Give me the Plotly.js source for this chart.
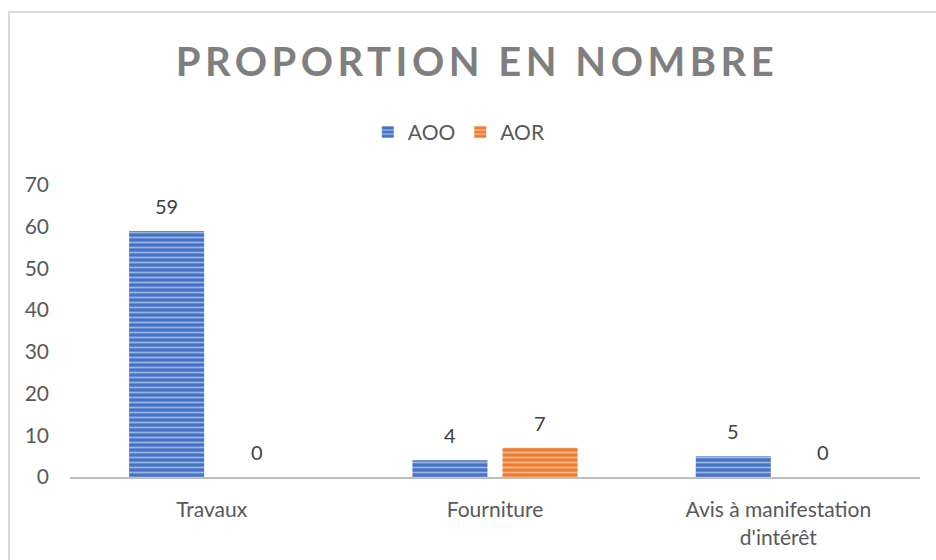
<!DOCTYPE html>
<html>
<head>
<meta charset="utf-8">
<script src="https://cdn.plot.ly/plotly-3.0.1.min.js"></script>
<style>
  html, body { margin: 0; padding: 0; background: #fff; }
  #frame { position: absolute; left: 8px; top: 11px; width: 1000px; height: 600px;
           border-left: 2px solid #D9D9D9; border-top: 2px solid #D9D9D9; pointer-events: none; }
  #chart { width: 936px; height: 560px; }
  .gtitle { letter-spacing: 4.5px; }
</style>
</head>
<body>
<div id="chart"></div>
<div id="frame"></div>
<script>
const categories = ["Travaux", "Fourniture", "Avis à manifestation<br>d'intérêt"];
const seriesNames = ["AOO", "AOR"];
const aooValues = [59, 4, 5];
const aorValues = [0, 7, 0];
const yTicks = [0, 10, 20, 30, 40, 50, 60, 70];

const colors = { AOO: "#4472C4", AOR: "#ED7D31" };
const patFg = { AOO: "#9DB5E3", AOR: "#F6B88E" };

function mkTrace(name, vals) {
  return {
    type: "bar", name: name, x: categories, y: vals,
    marker: {
      color: colors[name],
      line: { width: 0 },
      pattern: { shape: "-", fgcolor: patFg[name], bgcolor: colors[name], size: 5, solidity: 0.35 }
    },
    hoverinfo: "x+y"
  };
}

const traces = [mkTrace("AOO", aooValues), mkTrace("AOR", aorValues)];

const annotations = [];
[aooValues, aorValues].forEach((vals, si) => {
  vals.forEach((v, i) => {
    annotations.push({
      x: categories[i], y: v, xref: "x", yref: "y",
      text: String(v), showarrow: false,
      xshift: si === 0 ? -45 : 45, yshift: 11, yanchor: "bottom",
      font: { family: "Lato, 'Open Sans', sans-serif", size: 20, color: "#404040" }
    });
  });
});

const layout = {
  width: 936, height: 560,
  margin: { l: 70, r: 16, t: 185, b: 83 },
  paper_bgcolor: "#ffffff", plot_bgcolor: "#ffffff",
  title: {
    text: "<b>PROPORTION EN NOMBRE</b>",
    xref: "container", yref: "container", x: 0.5096, y: 1 - 62/560,
    xanchor: "center", yanchor: "middle",
    font: { family: "Lato, 'Open Sans', sans-serif", size: 40, color: "#7F7F7F" }
  },
  barmode: "group", bargap: 0.364, bargroupgap: 0.167,
  showlegend: true,
  legend: {
    orientation: "h", x: 0.458, xanchor: "center", y: 1.18, yanchor: "middle",
    font: { family: "Lato, 'Open Sans', sans-serif", size: 21, color: "#595959" },
    traceorder: "normal"
  },
  xaxis: {
    showgrid: false, zeroline: false, showline: true, linecolor: "#BFBFBF", linewidth: 2,
    ticks: "", ticklabelstandoff: 13,
    tickfont: { family: "Lato, 'Open Sans', sans-serif", size: 21, color: "#595959" },
    fixedrange: true
  },
  yaxis: {
    range: [0, 70], tickvals: yTicks, ticktext: yTicks.map(String),
    showgrid: false, zeroline: false, showline: false, ticks: "",
    ticklabelstandoff: 20,
    tickfont: { family: "Lato, 'Open Sans', sans-serif", size: 21, color: "#595959" },
    fixedrange: true
  },
  annotations: annotations
};

Plotly.newPlot("chart", traces, layout, { displayModeBar: false, staticPlot: true });
</script>
</body>
</html>
